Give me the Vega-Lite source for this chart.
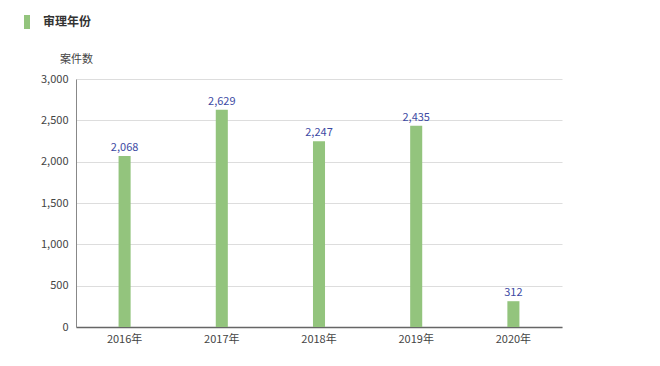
{
  "$schema": "https://vega.github.io/schema/vega-lite/v6.json",
  "width": 486,
  "height": 248,
  "autosize": {"type": "none"},
  "padding": {"left": 76, "top": 79, "right": 98, "bottom": 39},
  "background": "white",
  "config": {
    "font": "Noto Sans CJK SC",
    "view": {"stroke": null}
  },
  "data": {
    "values": [
      {"year": "2016年", "count": 2068, "series": "审理年份"},
      {"year": "2017年", "count": 2629, "series": "审理年份"},
      {"year": "2018年", "count": 2247, "series": "审理年份"},
      {"year": "2019年", "count": 2435, "series": "审理年份"},
      {"year": "2020年", "count": 312, "series": "审理年份"}
    ]
  },
  "encoding": {
    "x": {
      "field": "year",
      "type": "nominal",
      "sort": null,
      "scale": {"paddingInner": 0.876, "paddingOuter": 0.438},
      "axis": {
        "title": null,
        "labelAngle": 0,
        "ticks": false,
        "domainColor": "#666666",
        "domainWidth": 1.5,
        "labelColor": "#444444",
        "labelFontSize": 11,
        "labelPadding": 6
      }
    },
    "y": {
      "field": "count",
      "type": "quantitative",
      "scale": {"domain": [0, 3000]},
      "axis": {
        "values": [0, 500, 1000, 1500, 2000, 2500, 3000],
        "format": ",d",
        "title": "案件数",
        "titleAngle": 0,
        "titleAlign": "center",
        "titleBaseline": "middle",
        "titleX": 0,
        "titleY": -20,
        "titleFontWeight": "normal",
        "titleFontSize": 11,
        "titleColor": "#444444",
        "ticks": false,
        "domainColor": "#888888",
        "gridColor": "#dddddd",
        "labelColor": "#444444",
        "labelFontSize": 11,
        "labelPadding": 8
      }
    }
  },
  "layer": [
    {
      "mark": {"type": "bar"},
      "encoding": {
        "color": {
          "field": "series",
          "type": "nominal",
          "scale": {"range": ["#93c47d"]},
          "legend": {
            "title": null,
            "orient": "none",
            "legendX": -56,
            "legendY": -64,
            "symbolType": "M-0.43,-1H0.43V1H-0.43Z",
            "symbolSize": 196,
            "symbolStrokeWidth": 0,
            "symbolOpacity": 1,
            "labelFontSize": 12,
            "labelFontWeight": "bold",
            "labelColor": "#333333",
            "labelOffset": 9
          }
        }
      }
    },
    {
      "mark": {"type": "text", "baseline": "bottom", "dy": -3, "fontSize": 11, "color": "#3d4aa3"},
      "encoding": {
        "text": {"field": "count", "type": "quantitative", "format": ",d"}
      }
    }
  ]
}
